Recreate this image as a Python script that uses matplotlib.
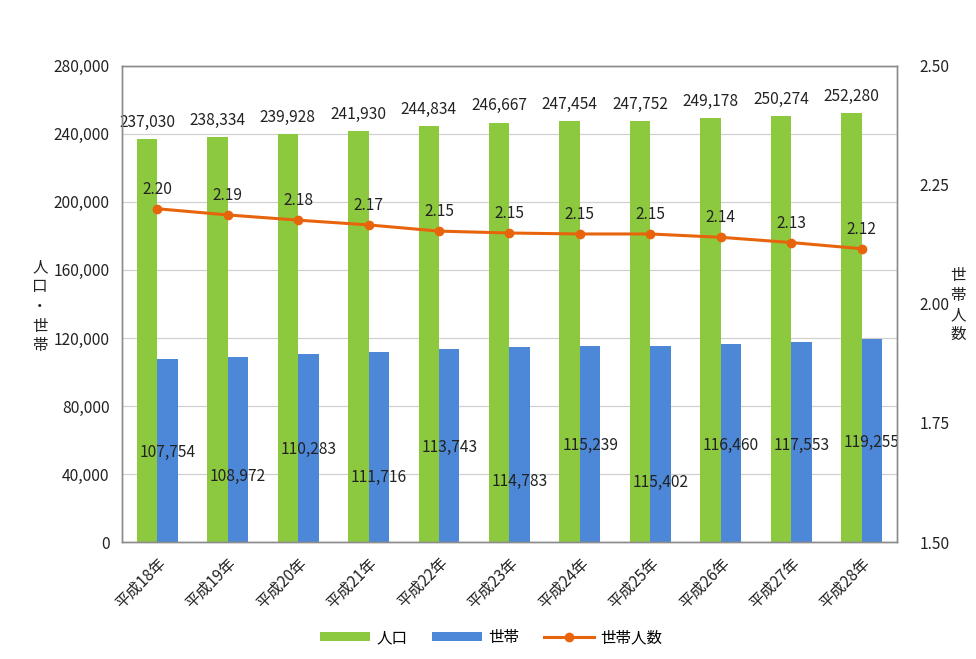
import matplotlib
matplotlib.use('Agg')
import matplotlib.pyplot as plt
import numpy as np

plt.rcParams['font.family'] = ['Noto Sans CJK JP', 'DejaVu Sans']

# data
years = ['平成18年', '平成19年', '平成20年', '平成21年', '平成22年', '平成23年',
         '平成24年', '平成25年', '平成26年', '平成27年', '平成28年']
population = [237030, 238334, 239928, 241930, 244834, 246667,
              247454, 247752, 249178, 250274, 252280]
households = [107754, 108972, 110283, 111716, 113743, 114783,
              115239, 115402, 116460, 117553, 119255]
per_household = [2.200, 2.187, 2.176, 2.166, 2.153, 2.149,
                 2.147, 2.147, 2.140, 2.129, 2.116]

# label heights for household values (as placed in the original)
hh_label_y = [52900, 38800, 54700, 38200, 55900, 35900,
              56500, 35300, 57000, 57000, 58800]

green = '#8DC93F'
blue = '#4D87D8'
orange = '#E8640C'
txt = '#222222'
fs = 11.2

fig = plt.figure(figsize=(9.76, 6.59), dpi=100)
ax = fig.add_axes([0.125, 0.1775, 0.794, 0.7225])
ax2 = ax.twinx()

x = np.arange(len(years))
w = 0.29
ax.bar(x - w / 2, population, w, color=green, label='人口', zorder=2)
ax.bar(x + w / 2, households, w, color=blue, label='世帯', zorder=2)

ax.set_ylim(0, 280000)
ax.set_xlim(-0.5, len(years) - 0.5)
ax.set_yticks(np.arange(0, 280001, 40000))
ax.set_yticklabels([f'{v:,}' for v in range(0, 280001, 40000)])
ax.grid(axis='y', color='#d0d0d0', linewidth=0.9, zorder=0)
ax.set_axisbelow(True)
ax.set_xticks(x)
ax.set_xticklabels(years, rotation=45, ha='right', rotation_mode='anchor')
ax.tick_params(axis='both', length=0, labelsize=fs, colors=txt, pad=9)

for i, v in enumerate(population):
    ax.annotate(f'{v:,}', (x[i] - w / 2, v), xytext=(0, 12),
                textcoords='offset points', ha='center', va='center',
                fontsize=fs, color=txt, zorder=5)
for i, v in enumerate(households):
    ax.text(x[i] + w / 2, hh_label_y[i], f'{v:,}', ha='center', va='center',
            fontsize=fs, color=txt, zorder=5)

ax2.plot(x, per_household, color=orange, lw=2.2, marker='o', ms=6,
         label='世帯人数', zorder=4)
ax2.set_ylim(1.5, 2.5)
ax2.set_yticks([1.5, 1.75, 2.0, 2.25, 2.5])
ax2.set_yticklabels(['1.50', '1.75', '2.00', '2.25', '2.50'])
ax2.tick_params(axis='y', length=0, labelsize=fs, colors=txt, pad=16)
for i, v in enumerate(per_household):
    ax2.annotate(f'{v:.2f}', (x[i], v), xytext=(0, 14),
                 textcoords='offset points', ha='center', va='center',
                 fontsize=fs, color=txt)

for a in (ax, ax2):
    for s in a.spines.values():
        s.set_color('#8c8c8c')
        s.set_linewidth(1.0)

fig.text(0.041, 0.535, '人\n口\n・\n世\n帯', ha='center', va='center',
         fontsize=fs, color=txt, linespacing=1.2)
fig.text(0.982, 0.537, '世\n帯\n人\n数', ha='center', va='center',
         fontsize=fs, color=txt, linespacing=1.2)

h1, l1 = ax.get_legend_handles_labels()
h2, l2 = ax2.get_legend_handles_labels()
fig.legend(h1 + h2, l1 + l2, loc='center', bbox_to_anchor=(0.503, 0.032),
           ncol=3, frameon=False, fontsize=fs, handlelength=3.2,
           handleheight=0.5, columnspacing=1.6, handletextpad=0.4)

fig.savefig('out.png', dpi=100)
